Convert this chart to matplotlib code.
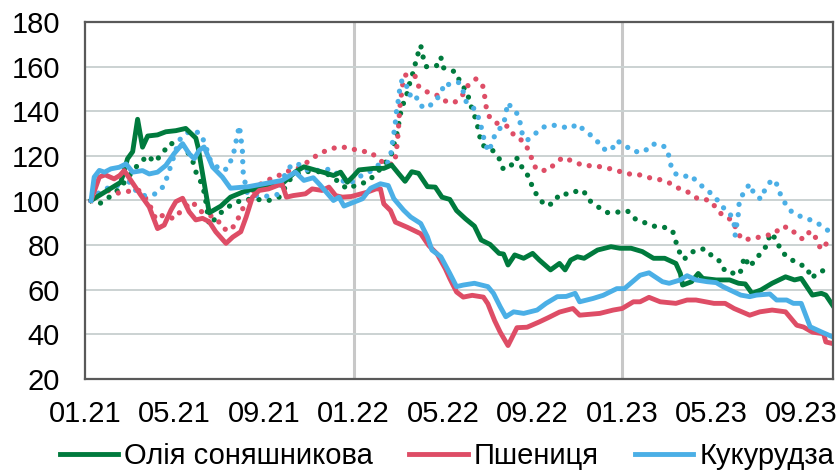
import matplotlib.pyplot as plt

plt.rcParams['font.family'] = ['Liberation Sans', 'DejaVu Sans']

# місяці від 01.21 (0 = початок січня 2021), індекси (01.21 = 100)
oil_dom_x = [0.27, 1.6, 1.9, 2.13, 2.35, 2.57, 2.8, 3.24, 3.61, 4.06, 4.5, 4.73, 4.95, 5.05, 5.55, 6.07,
             6.5, 7.1, 7.33, 8.07, 8.82, 9.41, 9.78, 10.3, 10.7, 11.1, 11.42, 11.72, 12.0, 12.24, 12.9,
             13.35, 13.7, 14.0, 14.3, 14.6, 14.9, 15.3, 15.65, 15.95, 16.3, 16.6, 17.0, 17.4, 17.7, 18.1,
             18.5, 18.7, 18.9, 19.2, 19.6, 20.0, 20.3, 20.8, 21.2, 21.45, 21.7, 22.0, 22.3, 22.9, 23.5,
             23.9, 24.4, 24.9, 25.4, 25.9, 26.4, 26.6, 26.7, 27.1, 27.4, 27.6, 28.2, 28.8, 29.2, 29.5,
             29.8, 30.2, 30.7, 31.3, 31.7, 32.0, 32.5, 32.9, 33.1, 33.4]
oil_dom = [100, 108.2, 118.7, 121.9, 136.4, 123.9, 128.9, 129.4, 130.8, 131.3, 132.3, 130.1, 128, 124, 94.5, 97.5,
           101.5, 104, 104.7, 105.9, 107.6, 112.9, 115.1, 113.6, 112.5, 111.2, 112.7, 108.2, 111.0, 113.7, 114.4,
           114.4, 115.9, 112.2, 108.6, 112.9, 112.2, 106.2, 106.0, 101.5, 100.5, 95.5, 91.8, 88.5, 82.3, 80.3,
           76.3, 76.0, 71.1, 75.6, 74.1, 76.3, 73.3, 68.9, 71.8, 68.9, 73.3, 74.8, 74.1, 77.8, 79.3,
           78.6, 78.6, 77.1, 74.1, 74.1, 71.8, 67.3, 62.1, 63.6, 67.3, 65.1, 64.4, 64.4, 62.9, 62.6,
           58.4, 59.9, 62.9, 65.8, 64.4, 65.1, 57.6, 58.4, 57.6, 53.1]

wheat_dom_x = [0.27, 0.64, 0.9, 1.3, 1.55, 1.75, 2.05, 2.5, 2.87, 3.24, 3.54, 3.84, 4.06, 4.36, 4.65, 4.95,
               5.25, 5.55, 5.84, 6.3, 6.6, 6.96, 7.2, 7.48, 7.78, 8.2, 8.8, 9.0, 9.3, 9.85, 10.15, 10.6,
               10.9, 11.2, 11.5, 11.9, 12.6, 13.0, 13.2, 13.35, 13.65, 13.87, 14.4, 15.0, 15.36, 15.73,
               16.1, 16.3, 16.6, 16.9, 17.3, 17.8, 18.0, 18.3, 18.55, 18.9, 19.3, 19.75, 20.3, 20.7, 21.2,
               21.8, 22.1, 23.0, 23.6, 24.0, 24.5, 24.8, 25.2, 25.7, 26.4, 26.9, 27.3, 28.1, 28.6, 29.0,
               29.7, 30.15, 30.7, 31.3, 31.8, 32.1, 32.5, 33.0, 33.1, 33.4]
wheat_dom = [100, 110.5, 111.5, 109.7, 111.2, 113.4, 109, 102.3, 97.1, 87.4, 89, 95.7, 99.5, 101, 95, 91.3,
             92, 90.5, 86, 80.8, 83.6, 86, 92.6, 101.5, 104.5, 105.2, 107.5, 101.5, 102.2, 103, 105.2, 104.5,
             106, 102.2, 101.5, 101.8, 103.7, 105.2, 105.2, 98.5, 95.5, 90.3, 88, 85.1, 79.8, 76.1,
             69.4, 65, 59, 56.7, 57.5, 56.7, 53.7, 46.2, 41, 35, 43, 43.2, 45.6, 47.5, 50,
             51.6, 48.6, 49.4, 50.9, 51.6, 54.6, 54.6, 56.6, 54.6, 53.9, 55.4, 55.4, 53.9, 53.9, 51.6,
             48.6, 50.1, 50.9, 50.1, 44.1, 43.3, 41, 40.3, 36.6, 35.9]

corn_dom_x = [0.27, 0.41, 0.64, 0.87, 1.16, 1.53, 1.83, 2.13, 2.57, 2.87, 3.24, 3.61, 3.98, 4.36, 4.65, 4.88,
              5.1, 5.32, 5.7, 6.14, 6.5, 7.3, 8.0, 8.8, 9.4, 9.78, 10.2, 10.5, 11.1, 11.35, 11.57, 12.0,
              12.4, 12.76, 13.2, 13.55, 13.8, 14.24, 14.55, 15.0, 15.3, 15.5, 15.9, 16.3, 16.6, 16.9, 17.4,
              18.0, 18.25, 18.55, 18.8, 19.15, 19.6, 20.2, 20.6, 21.1, 21.5, 21.9, 22.1, 22.7, 23.15, 23.76,
              24.1, 24.8, 25.2, 25.8, 26.1, 26.6, 26.9, 27.3, 27.8, 28.2, 28.5, 29.3, 29.7, 30.0, 30.6,
              30.9, 31.35, 31.65, 32.0, 32.4, 32.9, 33.4]
corn_dom = [100, 110.5, 113.5, 112.7, 114.2, 114.9, 116.4, 112.7, 113.4, 111.9, 112.7, 115.7, 121, 125.5, 121, 118.7,
            122.5, 124, 115, 110.5, 105.5, 106.2, 107.5, 109, 112.7, 109, 110.2, 107, 100, 101.5, 97.5, 99.2,
            100.8, 105.5, 107.5, 106.7, 100.8, 95.6, 92.6, 89.7, 83.7, 77.8, 74.8, 67.3, 61.4, 62.1, 62.9,
            61.4, 58.4, 52.4, 47.9, 50.1, 49.4, 50.9, 53.9, 56.9, 57, 58.4, 54.6, 56.1, 57.5, 60.5,
            60.5, 66.5, 67.6, 63.6, 62.9, 64.4, 66.3, 64.4, 63.6, 63.2, 61.4, 57.6, 56.9, 57.6, 58.1,
            55.4, 55.4, 53.9, 53.9, 43.4, 41.1, 38.9]

oil_world_x = [0.27, 0.64, 1.08, 1.53, 1.9, 2.2, 2.8, 3.1, 3.46, 3.76, 4.2, 4.5, 4.8, 4.95, 5.17, 5.32, 5.4,
               5.55, 6.14, 6.6, 7.1, 7.9, 8.2, 8.67, 9.2, 9.7, 10.6, 11.05, 11.42, 11.72, 12.25, 12.6, 13.0,
               13.35, 13.7, 13.94, 14.1, 14.25, 14.42, 14.54, 14.7, 14.8, 15.0, 15.1, 15.25, 15.7, 15.9, 16.0,
               16.3, 16.6, 16.77, 17.07, 17.2, 17.37, 17.52, 17.62, 17.74, 18.2, 18.5, 18.67, 19.0, 19.2,
               19.4, 19.56, 19.86, 20.0, 20.26, 20.56, 20.93, 21.2, 21.7, 22.0, 22.27, 22.5, 22.9, 23.3,
               23.8, 24.24, 24.6, 25.0, 25.4, 25.8, 26.25, 26.4, 26.55, 26.76, 27.1, 27.5, 27.75, 28.07,
               28.4, 28.6, 29.26, 29.37, 29.5, 29.65, 29.9, 30.2, 30.5, 30.6, 30.9, 31.07, 31.4, 31.86,
               32.26, 32.45, 32.8, 33.3]
oil_world = [100, 98.5, 101.5, 105.2, 110, 114.2, 120.2, 117.2, 121, 125.5, 125.5, 123, 118.2, 112.9, 108.4, 103.9, 99.5,
             89, 95.2, 98.5, 100.5, 100.4, 100, 101.5, 110, 113, 112.9, 110.7, 107.5, 105.2, 107.5, 108.2, 112,
             115.9, 121, 130.1, 139.1, 144.3, 148.8, 154, 158.5, 163.3, 169.5, 164.5, 160, 160.3, 164.2, 159.5,
             158.8, 157.2, 152.5, 148.8, 143.6, 139.1, 134.3, 129.4, 124.9, 122.6, 118.9, 114.4, 114.7, 119.2,
             118.5, 113.7, 110.4, 105.4, 101.4, 97.7, 98.7, 102.9, 102.9, 104.4, 104.4, 100.3, 97.3, 94.6,
             94.8, 95.3, 91.6, 90.1, 88.5, 88.3, 86.5, 81.5, 77.1, 73.6, 76.8, 78.3, 78.1, 74.4,
             72.6, 68.1, 66.9, 71.8, 74.8, 70.3, 72.6, 76.6, 80.3, 85.3, 82.6, 77.8, 74.4, 71.8,
             69.9, 65.1, 68.1, 69.3]

wheat_world_x = [0.27, 0.55, 1.0, 1.45, 2.0, 2.4, 2.8, 3.0, 3.17, 3.5, 3.98, 4.35, 4.8, 5.1, 5.9, 6.14, 6.5,
                 6.8, 7.0, 7.25, 7.63, 8.07, 8.5, 8.9, 9.48, 10.1, 10.45, 10.9, 11.3, 11.8, 12.2, 12.78, 13.1,
                 13.5, 13.83, 13.9, 13.95, 14.0, 14.03, 14.06, 14.12, 14.17, 14.32, 14.73, 14.9, 15.25, 15.7,
                 16.1, 16.5, 16.87, 17.1, 17.47, 17.77, 17.86, 17.93, 18.08, 18.45, 18.93, 19.18, 19.56,
                 19.82, 20.0, 20.16, 20.64, 21.0, 21.34, 21.8, 22.27, 22.76, 23.24, 23.7, 24.2, 24.65, 25.1,
                 25.6, 26.1, 26.5, 27.0, 27.4, 27.9, 28.2, 28.5, 28.96, 29.1, 29.35, 29.8, 30.3, 30.8, 31.1,
                 31.5, 31.86, 32.1, 32.4, 32.7, 32.87, 33.17, 33.4]
wheat_world = [100, 103, 104.5, 103.3, 104.2, 104.5, 100, 95.5, 91.5, 93.5, 91.8, 96, 99.5, 95.5, 91.8, 87.5, 86.4,
               90.9, 95.8, 98.5, 105.7, 109, 110.2, 112.7, 114.2, 118.3, 121, 122.8, 124, 123.7, 122.3, 121.6, 118.5,
               115.9, 116.7, 121.4, 125.5, 131.6, 136.1, 141.3, 145.8, 151, 156.2, 156.2, 151.3, 148.8, 147.3,
               144.6, 143.8, 147.3, 151.4, 154.5, 151.4, 146.5, 141.5, 137.2, 134.3, 133.1, 128.9, 126.7,
               122.6, 117.7, 114, 113.3, 116.4, 119.3, 117.6, 115.6, 115.6, 114.7, 113.7, 111.9, 111.9, 110.4,
               109.6, 107.9, 105.6, 103.5, 100.6, 100.2, 96.7, 93.1, 91, 86.7, 82.6, 82.7, 84.1, 85, 88.3,
               87.8, 83.8, 82.6, 86.3, 82.7, 78.1, 81.1, 80.5]

corn_world_x = [0.27, 0.55, 1.0, 1.45, 1.68, 1.98, 2.27, 2.65, 3.17, 3.54, 3.69, 3.84, 4.2, 4.5, 4.8, 5.17, 5.35,
                5.6, 6.07, 6.36, 6.55, 6.7, 6.78, 6.9, 6.96, 7.03, 7.06, 7.15, 7.25, 7.63, 8.2, 8.6, 8.96, 9.26,
                9.59, 9.88, 10.6, 10.97, 11.37, 11.6, 12.0, 12.3, 12.7, 13.05, 13.5, 13.65, 13.72, 13.8, 13.87,
                13.92, 14.0, 14.06, 14.17, 14.36, 14.46, 14.6, 14.76, 14.9, 15.2, 15.6, 15.9, 16.07, 16.3,
                16.7, 16.9, 17.03, 17.3, 17.5, 17.66, 17.77, 17.9, 18.04, 18.2, 18.36, 18.7, 18.8, 18.9,
                19.07, 19.37, 19.47, 19.56, 19.77, 20.1, 20.44, 20.9, 21.27, 21.7, 22.0, 22.2, 22.5, 22.84,
                23.16, 23.5, 23.76, 24.1, 24.5, 25.0, 25.3, 25.66, 25.96, 26.1, 26.2, 26.4, 26.76, 27.06,
                27.4, 27.8, 28.17, 28.47, 28.8, 29.0, 29.05, 29.2, 29.23, 29.45, 29.7, 29.9, 30.2, 30.4,
                30.7, 30.9, 31.07, 31.3, 31.6, 32.05, 32.5, 32.94, 33.35]
corn_world = [100, 103, 105.5, 106.7, 111.2, 108.2, 104.5, 102.2, 103, 106.7, 111.2, 115.7, 126.9, 130, 131.4, 130, 125.6,
              118, 113.4, 114.2, 118.7, 123.4, 128.4, 133.5, 128.4, 123.1, 113.2, 108.2, 103.3, 102.2, 101.9, 102.7, 112.3, 116.4,
              116.1, 113.7, 113.4, 114.2, 111.2, 107.8, 108.5, 110.9, 112.7, 115.7, 116.6, 119.8, 124.9, 130.1, 135.3,
              140.3, 145, 149.8, 154.3, 151.8, 147.3, 147.3, 148, 143.2, 141.3, 143.8, 148, 152.7, 151.8,
              152.9, 148.8, 144.3, 142.3, 139.3, 134.9, 129.8, 124.9, 121.9, 126.3, 130.6, 133.8, 139.1, 143.8,
              141.3, 138.3, 133.4, 128.6, 127.1, 129.8, 132.8, 133.8, 133.1, 132.4, 134.3, 132.4, 130.1, 127.1,
              123.1, 122.3, 126.8, 124.9, 121.9, 121.9, 125.2, 125.3, 123.7, 119.6, 114.7, 111.9, 110.7, 111.4,
              107.7, 104.7, 101.3, 97.2, 94.6, 89.5, 84.5, 94.6, 99.5, 104, 107.4, 102.8, 100.6, 105.4,
              109.5, 107.4, 102.8, 98.4, 94.6, 92.5, 91, 88.6, 85.3]

tick_pos = [0, 4, 8, 12, 16, 20, 24, 28, 32]
tick_labels = ['01.21', '05.21', '09.21', '01.22', '05.22', '09.22', '01.23', '05.23', '09.23']
year_lines = [12, 24]

green = '#007A3D'
red = '#DE4D66'
blue = '#4BAFE6'

fig = plt.figure(figsize=(8.39, 4.71), dpi=100)
ax = fig.add_axes([85 / 839, 1 - 379 / 471, 748 / 839, 357 / 471])

dots = dict(lw=3.8, linestyle=(0, (0.01, 1.95)), dash_capstyle='round')
ax.plot(oil_world_x, oil_world, color=green, **dots)
ax.plot(wheat_world_x, wheat_world, color=red, **dots)
ax.plot(corn_world_x, corn_world, color=blue, **dots)

l1, = ax.plot(oil_dom_x, oil_dom, color=green, lw=3.5, solid_joinstyle='round', label='Олія соняшникова')
l2, = ax.plot(wheat_dom_x, wheat_dom, color=red, lw=3.5, solid_joinstyle='round', label='Пшениця')
l3, = ax.plot(corn_dom_x, corn_dom, color=blue, lw=3.5, solid_joinstyle='round', label='Кукурудза')

ax.set_xlim(0, 33.42)
ax.set_ylim(20, 180)
ax.set_yticks(range(20, 181, 20))
ax.set_xticks(tick_pos)
ax.set_xticklabels(tick_labels)
ax.set_xticks(year_lines, minor=True)
ax.tick_params(axis='both', which='major', length=0, labelsize=21)
ax.tick_params(axis='y', pad=18)
ax.tick_params(axis='x', pad=15)
ax.tick_params(axis='x', which='minor', direction='in', length=6, width=2, color='#595959')

ax.grid(axis='y', color='#CBD2D2', lw=1.4)
for x in year_lines:
    ax.axvline(x, color='#C8C8C8', lw=2.2, zorder=0.5)
ax.set_axisbelow(True)

for s in ax.spines.values():
    s.set_color('#595959')
    s.set_linewidth(1.6)

fig.legend(handles=[l1, l2, l3], loc='lower center', bbox_to_anchor=(447 / 839, 1 / 471),
           ncol=3, frameon=False, fontsize=21, handlelength=2.0, handletextpad=0.2,
           columnspacing=1.25, borderpad=0, borderaxespad=0)

fig.savefig('out.png', dpi=100)
